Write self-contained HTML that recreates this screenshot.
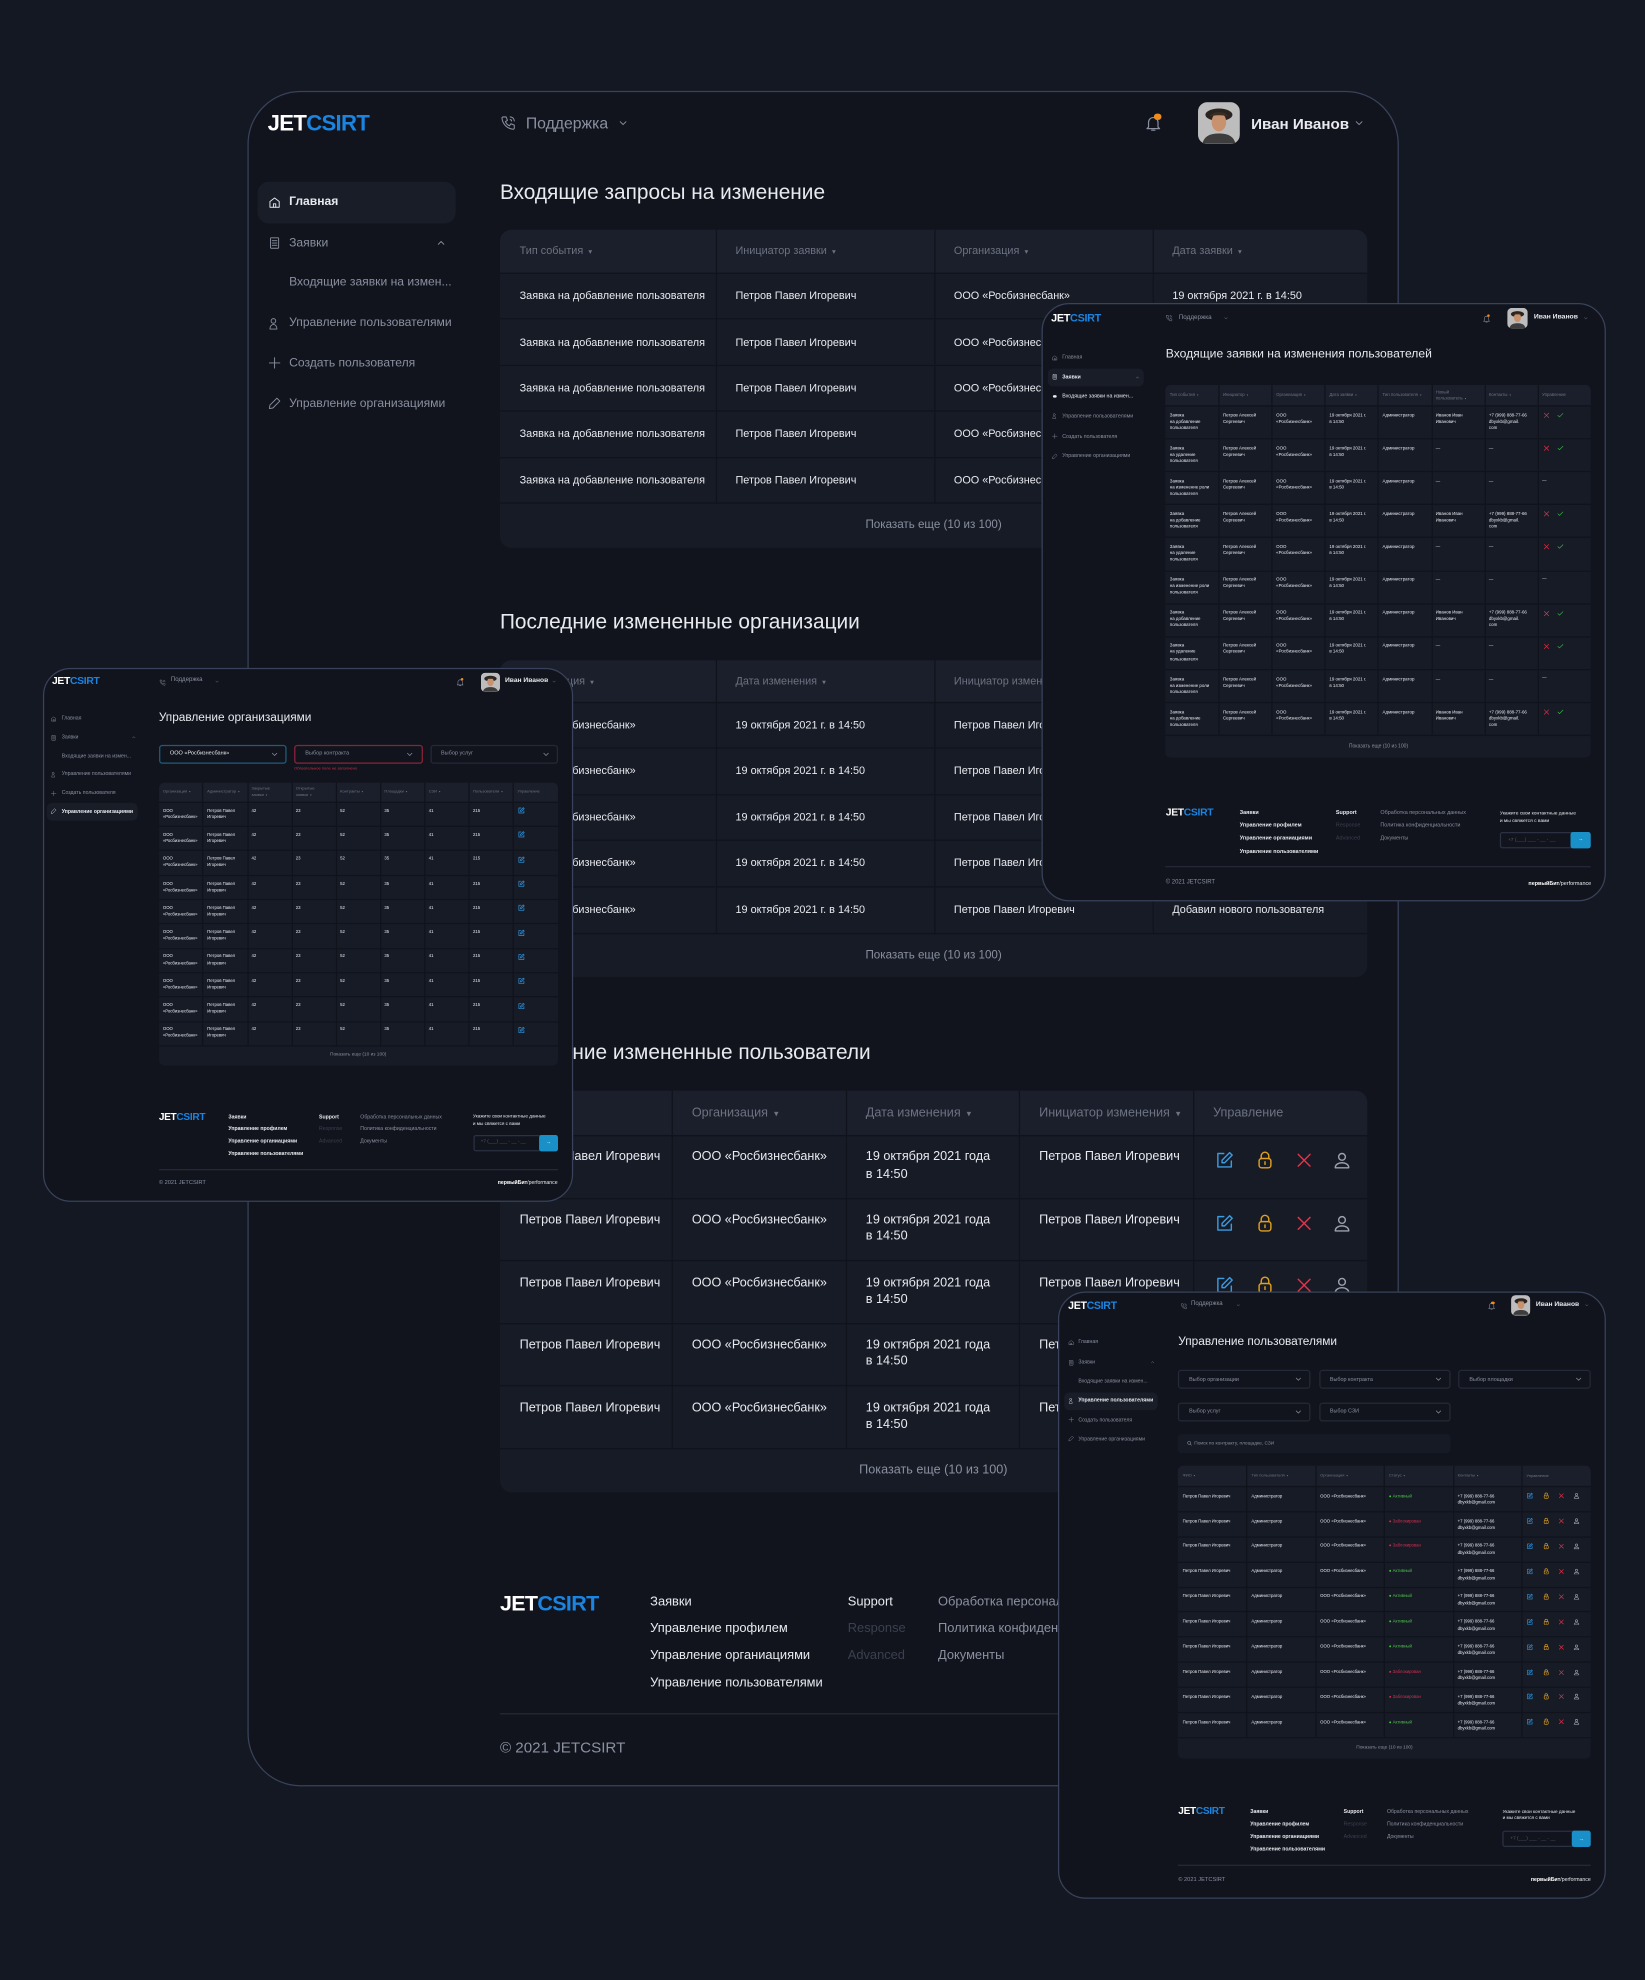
<!DOCTYPE html>
<html><head><meta charset="utf-8">
<style>
html,body{margin:0;padding:0;background:#141823;width:1645px;height:1980px;overflow:hidden}
#root{position:absolute;left:0;top:0;width:1303px;height:1568px;transform:scale(1.26247);transform-origin:0 0;font-family:"Liberation Sans",Arial,sans-serif}
#root div{box-sizing:border-box}
#root svg{display:block}
</style></head><body><div id="root"></div>
<script>
const R=document.getElementById('root');
const PANEL='#11141d',HDR='#1b1f2b',ROW='#171b26',LINE='#10131c',GREY='#8a90a0',HG='#6c7282',DIM='#3a404e',WH='#e8eaef',BLUE='#1b84e0';
function el(css,html){const e=document.createElement('div');e.style.cssText=css;if(html!=null)e.innerHTML=html;R.appendChild(e);return e;}
function r(x,y,w,h,bg,rad,ex){return el(`position:absolute;left:${x}px;top:${y}px;width:${w}px;height:${h}px;background:${bg};border-radius:${rad||0}px;${ex||''}`);}
function t(x,y,s,fs,c,fw,ex){return el(`position:absolute;left:${x}px;top:${y}px;font-size:${fs}px;line-height:1;color:${c};font-weight:${fw||400};white-space:nowrap;transform:translateY(-50%);${ex||''}`,s);}
function tc(x,y,s,fs,c,fw){return t(x,y,s,fs,c,fw,'transform:translate(-50%,-50%)');}
function logo(x,y,fs){t(x,y,'<span style="color:#fff">JET</span><span style="color:'+BLUE+'">CSIRT</span>',fs,'#fff',700,'letter-spacing:-0.03em');}
const IC={
edit:c=>`<path d="M20 13v7H4V4h7" stroke="${c}"/><path d="M18 3l3 3-9 9H9v-3z" stroke="${c}"/>`,
lock:c=>`<path d="M7.5 10V7a4.5 4.5 0 019 0v3" stroke="${c}"/><rect x="5" y="10" width="14" height="11" rx="3" stroke="${c}"/><path d="M12 14v3" stroke="${c}"/>`,
x:c=>`<path d="M5 5l14 14M19 5L5 19" stroke="${c}"/>`,
user:c=>`<circle cx="12" cy="8" r="4" stroke="${c}"/><path d="M4 21c0-4 4-6 8-6s8 2 8 6z" stroke="${c}"/>`,
check:c=>`<path d="M4 12l5 5L20 6" stroke="${c}"/>`,
home:c=>`<path d="M4 10l8-6 8 6v10H4z" stroke="${c}"/><path d="M10 20v-6h4v6" stroke="${c}"/>`,
doc:c=>`<rect x="5" y="3" width="14" height="18" rx="1" stroke="${c}"/><path d="M8 8h8M8 12h8M8 16h8" stroke="${c}"/>`,
plus:c=>`<path d="M12 3v18M3 12h18" stroke="${c}"/>`,
pen:c=>`<path d="M16 3l5 5L9 20l-6 1 1-6z" stroke="${c}"/>`,
users:c=>`<circle cx="10" cy="7" r="4" stroke="${c}"/><path d="M4 21c0-5 3-8 6-8s6 3 6 8z" stroke="${c}"/>`,
phone:c=>`<path d="M5 3h4l2 5-3 2a11 11 0 006 6l2-3 5 2v4a2 2 0 01-2 2A18 18 0 013 5a2 2 0 012-2z" stroke="${c}"/><path d="M15 3a6 6 0 016 6M15 7a2 2 0 012 2" stroke="${c}"/>`,
bell:c=>`<path d="M6 17V11a6 6 0 0112 0v6l2 2H4z" stroke="${c}"/><path d="M10 21h4" stroke="${c}"/>`,
chev:c=>`<path d="M6 9l6 6 6-6" stroke="${c}"/>`,
chevu:c=>`<path d="M6 15l6-6 6 6" stroke="${c}"/>`,
search:c=>`<circle cx="10" cy="10" r="6" stroke="${c}"/><path d="M15 15l5 5" stroke="${c}"/>`
};
function ic(name,x,y,s,c,sw){return el(`position:absolute;left:${x}px;top:${y-s/2}px;width:${s}px;height:${s}px;line-height:0;font-size:0`,`<svg viewBox="0 0 24 24" width="${s}" height="${s}" fill="none" stroke-width="${sw||1.8}" stroke-linecap="round" stroke-linejoin="round">${IC[name](c)}</svg>`);}
function avatar(x,y,s){el(`position:absolute;left:${x}px;top:${y}px;width:${s}px;height:${s}px;border-radius:${s*0.22}px;overflow:hidden;background:#c9c9c9;line-height:0;font-size:0`,
`<svg viewBox="0 0 40 40" width="${s}" height="${s}"><rect width="40" height="40" fill="#bdbdbd"/><path d="M4 40c2-8 8-10 16-10s14 2 16 10z" fill="#3d3d3d"/><ellipse cx="20" cy="12" rx="13" ry="6" fill="#2a2420"/><ellipse cx="20" cy="19" rx="7" ry="9" fill="#c9926f"/><path d="M11 14c2-6 16-6 18 0-3-2-15-2-18 0z" fill="#3b2d22"/></svg>`);}
function panel(x,y,w,h,rad){r(x,y,w,h,PANEL,rad,'border:1px solid #38425a;overflow:hidden');}

function table(o){
 const c=o.c,x0=c[0],x1=c[c.length-1],W=x1-x0,bodyH=o.hh+o.n*o.rh,lw=o.lw||1,H=bodyH+o.sh;
 r(x0,o.y,W,H,ROW,o.rad);
 r(x0,o.y,W,o.hh,HDR,o.rad,'border-bottom-left-radius:0;border-bottom-right-radius:0');
 for(let i=1;i<c.length-1;i++) r(c[i]-lw/2,o.y,lw,bodyH,LINE);
 for(let j=0;j<=o.n;j++) r(x0,o.y+o.hh+j*o.rh-lw/2,W,lw,LINE);
 o.h.forEach((s,i)=>el(`position:absolute;left:${c[i]+o.px}px;top:${o.y+o.hh/2}px;transform:translateY(-50%);font-size:${o.hfs}px;line-height:1.3;color:${HG};white-space:nowrap`,s.replace('▾','<span style="font-size:0.7em">&nbsp;▾</span>')));
 for(let j=0;j<o.n;j++)for(let i=0;i<c.length-1;i++){
  const v=o.cell(j,i);if(v==null)continue;
  if(typeof v==='function'){v(c[i]+o.px,o.y+o.hh+j*o.rh);continue;}
  el(`position:absolute;left:${c[i]+o.px}px;top:${o.y+o.hh+j*o.rh+o.ty}px;font-size:${o.fs}px;line-height:${o.lh};color:${WH};white-space:nowrap`,v);
 }
 tc((x0+x1)/2,o.y+bodyH+o.sh/2,'Показать еще (10 из 100)',o.sfs,GREY);
}
function header(o){
 logo(o.lx,o.y,o.lfs);
 ic('phone',o.px,o.y,o.ps,GREY,1.5);
 t(o.tx,o.y,'Поддержка',o.fs,GREY);
 ic('chev',o.cx,o.y,o.ps*0.7,GREY,2);
 ic('bell',o.bx,o.y,o.bs,GREY,1.5);
 r(o.bx+o.bs*0.55,o.y-o.bs*0.5,o.bs*0.35,o.bs*0.35,'#f08c1a',o.bs);
 avatar(o.ax,o.ay,o.as);
 t(o.nx,o.y,'Иван Иванов',o.nfs,WH,700);
 ic('chev',o.chx,o.y,o.ps*0.7,GREY,2);
}
function sidebar(o){
 const items=[['home','Главная'],['doc','Заявки'],[null,'Входящие заявки на измен...'],['users','Управление пользователями'],['plus','Создать пользователя'],['pen','Управление организациями']];
 const h=o.hl;r(h[0],h[1],h[2],h[3],'#191d28',o.hr);
 items.forEach((it,i)=>{
  const act=i===o.act,col=act?WH:GREY;
  if(it[0])ic(it[0],o.ix-o.is/2,o.ys[i],o.is,col,1.6);
  else if(o.bullet) r(o.ix-o.fs*0.25,o.ys[i]-o.fs*0.25,o.fs*0.5,o.fs*0.5,WH,5);
  t(o.tx,o.ys[i],it[1],o.fs,(i===2&&o.bullet)?WH:col,act?700:400);
  if(i===1)ic('chevu',o.chx,o.ys[i],o.is*0.8,GREY,2);
 });
}
function footer(o){
 const k=o.fs,sp=o.sp;
 logo(o.x,o.y,o.lfs);
 ['Заявки','Управление профилем','Управление органиациями','Управление пользователями'].forEach((s,i)=>t(o.c1,o.y+i*sp,s,k,WH,o.fw||700));
 t(o.c2,o.y,'Support',k,WH,o.fw||700);t(o.c2,o.y+sp,'Response',k,DIM);t(o.c2,o.y+2*sp,'Advanced',k,DIM);
 ['Обработка персональных данных','Политика конфиденциальности','Документы'].forEach((s,i)=>t(o.c3,o.y+i*sp,s,k,GREY));
 if(o.c4!=null){
  el(`position:absolute;left:${o.c4}px;top:${o.y-k*0.6}px;font-size:${k*0.9}px;line-height:1.5;color:${WH};white-space:nowrap`,'Укажите свои контактные данные<br>и мы свяжется с вами');
  const p=o.inp;r(p[0],p[1],p[2],p[3],'transparent',2,'border:0.6px solid #2a3142');
  r(p[0]+p[2]-p[3]*1.15,p[1],p[3]*1.15,p[3],'#1a90c8',2);
  tc(p[0]+p[2]-p[3]*0.57,p[1]+p[3]/2,'→',k,WH);
  t(p[0]+k*1.5,p[1]+p[3]/2,'+7 (___) ___ - __ - __',k*0.9,'#555b6a');
 }
 r(o.x,o.div,o.right-o.x,0.8,'#252a37');
 t(o.x,o.cy,'© 2021 JETCSIRT',o.cfs||k*1.1,GREY);
 if(o.brand) t(o.right,o.cy,'<b style="color:#fff">первыйБит</b>/performance',k,WH,400,'transform:translate(-100%,-50%)');
}
function dd(x,y,w,h,txt,fs,bc,tcol){r(x,y,w,h,'transparent',2.5,`border:0.7px solid ${bc}`);t(x+fs*2,y+h/2,txt,fs,tcol);ic('chev',x+w-fs*3,y+h/2,fs*1.6,GREY,2);}

/* ============ MAIN PANEL ============ */
panel(196,72,912,1343,42);
header({lx:212,y:97.5,lfs:17.5,px:396,ps:13,tx:416.5,fs:12.5,cx:489,bx:906,bs:15,ax:949,ay:81,as:33,nx:991,nfs:12,chx:1072});
sidebar({ys:[160,192.5,224.3,256,287.8,319.6],ix:217,is:11,tx:229,fs:9.6,hl:[204,144,157,33],hr:9,act:0,chx:345});
t(396,152.5,'Входящие запросы на изменение',16.5,WH,400);
table({c:[396,567,740,913,1083],y:182,hh:34.5,rh:36.4,n:5,sh:35.5,rad:9,px:15.6,hfs:8.6,fs:8.6,lh:1.3,ty:12.6,sfs:9.2,
 h:['Тип события ▾','Инициатор заявки ▾','Организация ▾','Дата заявки ▾'],
 cell:(j,i)=>['Заявка на добавление пользователя','Петров Павел Игоревич','ООО «Росбизнесбанк»','19 октября 2021 г. в 14:50'][i]});
t(396,493,'Последние измененные организации',16.5,WH,400);
table({c:[396,567,740,913,1083],y:523,hh:33,rh:36.6,n:5,sh:35,rad:9,px:15.6,hfs:8.6,fs:8.6,lh:1.3,ty:12.6,sfs:9.2,
 h:['Организация ▾','Дата изменения ▾','Инициатор изменения ▾','Описание'],
 cell:(j,i)=>['ООО «Росбизнесбанк»','19 октября 2021 г. в 14:50','Петров Павел Игоревич','Добавил нового пользователя'][i]});
t(396,834,'Последние измененные пользователи',16.5,WH,400);
table({c:[396,532.4,670.2,807.5,945.3,1082.6],y:864.3,hh:35.2,rh:49.6,n:5,sh:35,rad:9,px:15.6,hfs:10,fs:10,lh:'13.3px',ty:10.8,sfs:10,
 h:['ФИО ▾','Организация ▾','Дата изменения ▾','Инициатор изменения ▾','Управление'],
 cell:(j,i)=>i<4?['Петров Павел Игоревич','ООО «Росбизнесбанк»','19 октября 2021 года<br>в 14:50','Петров Павел Игоревич'][i]:
  ((x,y)=>{ic('edit',962,y+19.4,16,'#3a9be0',1.7);ic('lock',994,y+19.4,16,'#e0a020',1.7);ic('x',1025,y+19.4,16,'#e0344a',1.7);ic('user',1055,y+19.4,16,'#9aa0ad',1.7);})});
footer({x:396,y:1269.6,lfs:17,sp:21.3,fs:10.2,fw:400,c1:515,c2:671.5,c3:743,c4:null,div:1357,right:1083,cy:1383.6,cfs:12});

/* ============ TOP-RIGHT PANEL ============ */
panel(825,240,447,474,22);
header({lx:832.6,y:252.2,lfs:8.6,px:923.4,ps:6,tx:933.7,fs:5,cx:969,bx:1174,bs:7,ax:1194.4,ay:243.8,as:16,nx:1215,nfs:5.4,chx:1254});
sidebar({ys:[283,298.6,314.3,329.9,345.6,361.2],ix:835.5,is:5,tx:841.4,fs:4.2,hl:[829.7,292.3,76,14.1],hr:4,act:1,chx:899,bullet:true});
t(923.4,281.4,'Входящие заявки на изменения пользователей',9.6,WH,400);
{const types=['добавление','удаление','изменение роли'];
 const cols=[];for(let k=0;k<=8;k++)cols.push(923.4+k*42.13);
 table({c:cols,y:304.9,hh:16.6,rh:26.1,n:10,sh:17.8,rad:4,px:3.2,hfs:3.4,fs:3.5,lh:1.45,ty:5.2,sfs:4,
 h:['Тип события ▾','Инициатор ▾','Организация ▾','Дата заявки ▾','Тип пользователя ▾','Новый<br>пользователь ▾','Контакты ▾','Управление'],
 cell:(j,i)=>{const ty=j%3,add=ty===0;
  if(i===7){return (x,y)=>{if(ty===2){t(x,y+7,'—',3.5,WH);return;}ic('x',x,y+7.5,6,'#e0344a',2);ic('check',x+11,y+7.5,6,'#3bb54a',2);};}
  return ['Заявка<br>на '+(ty===2?'изменение роли':types[ty])+'<br>пользователя','Петров Алексей<br>Сергеевич','ООО<br>«Росбизнесбанк»','19 октября 2021 г.<br>в 14:50','Администратор',add?'Иванов Иван<br>Иванович':'—',add?'+7 (999) 888-77-66<br>dbyxkb@gmail.<br>com':'—'][i];}});}
footer({x:923.4,y:643.7,lfs:8.2,sp:10.3,fs:4.3,c1:982,c2:1058.2,c3:1093.4,c4:1188,inp:[1188,658.8,71.6,13.2],div:686.3,right:1260.4,cy:699.5,brand:true});

/* ============ LEFT PANEL ============ */
panel(33.5,528.5,420,423,22);
header({lx:41.2,y:540.3,lfs:8.2,px:125.8,ps:5.5,tx:135.4,fs:4.8,cx:170,bx:361,bs:7,ax:380.9,ay:532.5,as:15,nx:400,nfs:5.3,chx:437});
sidebar({ys:[569.2,584.2,598.6,613.4,628.1,642.8],ix:42.6,is:5,tx:48.9,fs:4.1,hl:[37.2,636.1,72.3,13.9],hr:4,act:5,chx:104});
t(125.8,568.1,'Управление организациями',9.4,WH,400);
dd(125.8,589.5,101,15.3,'<span style="color:#e8eaef">ООО «Росбизнесбанк»</span>',4.4,'#1f5c7a',WH);
dd(233,589.5,101.5,15.3,'Выбор контракта',4.4,'#8c2339',GREY);
t(233,609.2,'Обязательное поле не заполнено',3.2,'#c0304a');
dd(340.5,589.5,101.2,15.3,'Выбор услуг',4.4,'#232936',GREY);
{const cols=[];for(let k=0;k<=9;k++)cols.push(125.8+k*35.1);
 table({c:cols,y:619.5,hh:15.8,rh:19.3,n:10,sh:15.9,rad:4,px:3.2,hfs:3.2,fs:3.4,lh:1.5,ty:4.3,sfs:3.8,
 h:['Организация ▾','Администратор ▾','Закрытые<br>заявки ▾','Открытые<br>заявки ▾','Контракты ▾','Площадки ▾','СЗИ ▾','Пользователи ▾','Управление'],
 cell:(j,i)=>i===8?((x,y)=>ic('edit',x,y+6.8,6,'#2f95e0',2.2)):['ООО<br>«Росбизнесбанк»','Петров Павел<br>Игоревич','42','23','52','35','41','215'][i]});}
footer({x:125.8,y:884.5,lfs:8,sp:9.7,fs:4.1,c1:180.9,c2:252.7,c3:285.4,c4:374.6,inp:[374.6,899.2,67.1,12.5],div:925.6,right:441.7,cy:936.7,brand:true});

/* ============ BOTTOM-RIGHT PANEL ============ */
panel(838,1022.5,434,481,22);
header({lx:846.1,y:1034.3,lfs:8.4,px:935.3,ps:5.5,tx:943.4,fs:4.8,cx:979,bx:1177.5,bs:7,ax:1196.8,ay:1026.4,as:15.5,nx:1216.6,nfs:5.3,chx:1255});
sidebar({ys:[1063.4,1079,1094.1,1109.4,1124.5,1139.5],ix:848.4,is:5,tx:854.2,fs:4.1,hl:[843.2,1102.5,74,14.1],hr:4,act:3,chx:911});
t(933.3,1062.4,'Управление пользователями',9.4,WH,400);
dd(933.3,1085.3,104.6,15,'Выбор организации',4.3,'#232936',GREY);
dd(1044.8,1085.3,104.2,15,'Выбор контракта',4.3,'#232936',GREY);
dd(1155.3,1085.3,104.8,15,'Выбор площадки',4.3,'#232936',GREY);
dd(933.3,1111,104.6,14.7,'Выбор услуг',4.3,'#232936',GREY);
dd(1044.8,1111,104.2,14.7,'Выбор СЗИ',4.3,'#232936',GREY);
r(933.3,1136,215.7,15.1,'#161a24',3);ic('search',940,1143.5,4.5,GREY,2.2);t(946,1143.5,'Поиск по контракту, площадке, СЗИ',3.8,GREY);
{const cols=[];for(let k=0;k<=6;k++)cols.push(933.3+k*54.45);const st=[1,0,0,1,1,1,1,0,0,1];
 table({c:cols,y:1161.1,hh:16.3,rh:19.9,n:10,sh:16.6,rad:4,px:3.5,hfs:3.2,fs:3.4,lh:1.6,ty:5.2,sfs:3.8,
 h:['ФИО ▾','Тип пользователя ▾','Организация ▾','Статус ▾','Контакты ▾','Управление'],
 cell:(j,i)=>{if(i===5)return (x,y)=>{ic('edit',x,y+7.6,5.5,'#2f95e0',2.2);ic('lock',x+12.5,y+7.6,5.5,'#e0a020',2.2);ic('x',x+25,y+7.6,5.5,'#e0344a',2.2);ic('user',x+37,y+7.6,5.5,'#9aa0ad',2.2);};
  if(i===3)return st[j]?'<span style="color:#4cc04a">● Активный</span>':'<span style="color:#d0304e">● Заблокирован</span>';
  return ['Петров Павел Игоревич','Администратор','ООО «Росбизнесбанк»',null,'+7 (999) 888-77-66<br>dbyxkb@gmail.com'][i];}});}
footer({x:933.3,y:1435.2,lfs:8,sp:10,fs:4.1,c1:990.3,c2:1064.3,c3:1098.6,c4:1190.2,inp:[1190.2,1449.9,70,13.4],div:1476.8,right:1260,cy:1489.3,brand:true});
</script>
</body></html>
